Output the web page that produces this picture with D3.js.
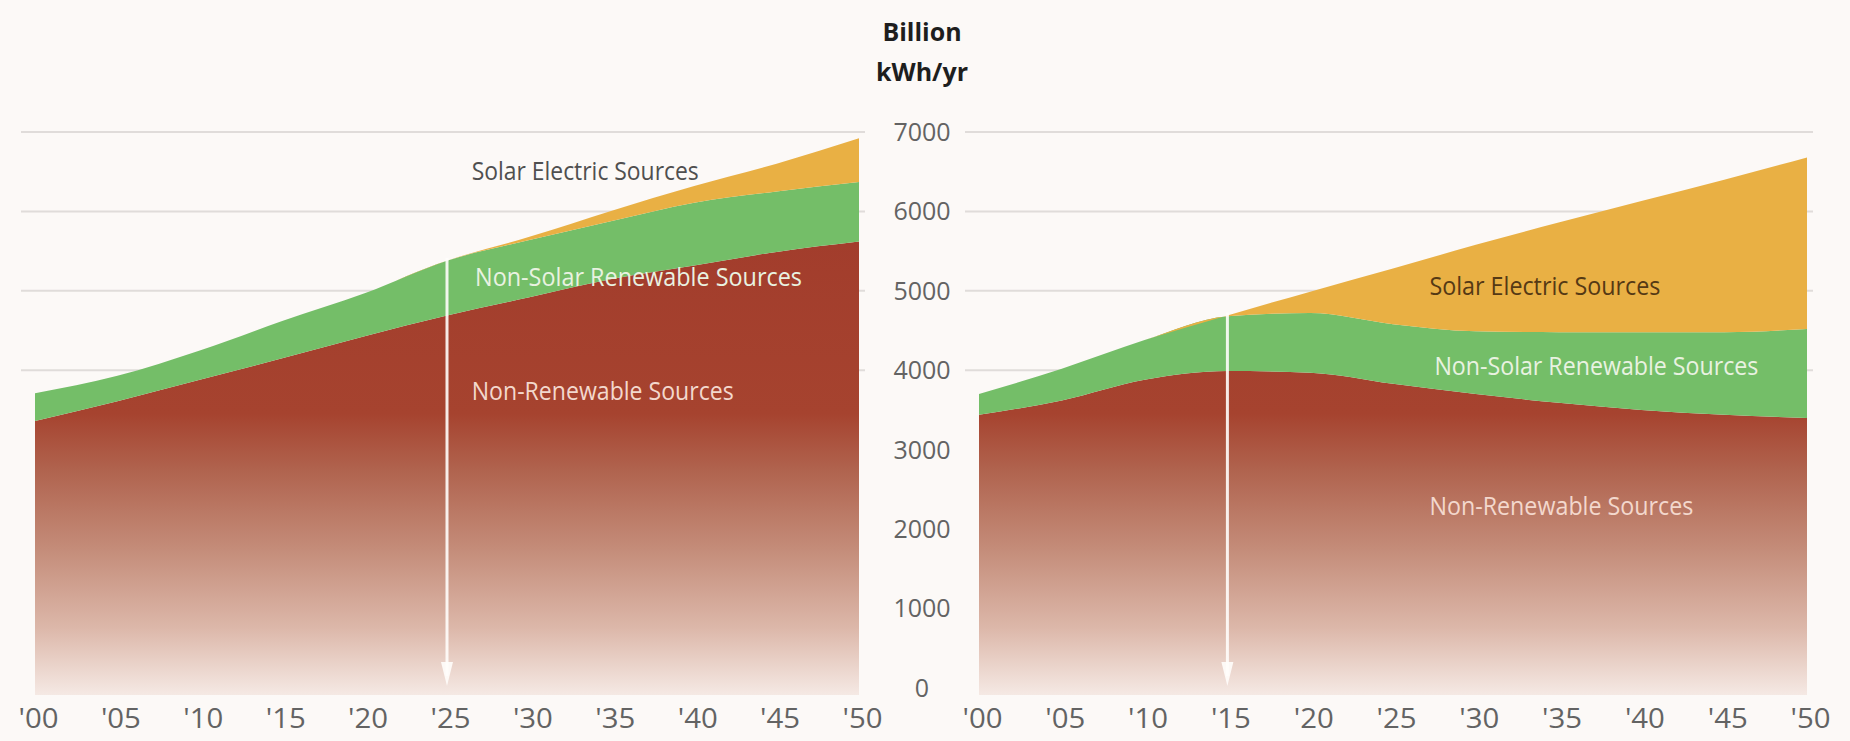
<!DOCTYPE html>
<html>
<head>
<meta charset="utf-8">
<style>
    body { margin: 0; background: #fcf9f7; }
    svg { display: block; }
</style>
</head>
<body>
<svg width="1850" height="741"></svg>
<script src="https://d3js.org/d3.v7.min.js"></script>
<script>
    // values in billion kWh/yr
    const years = [2000, 2005, 2010, 2015, 2020, 2025, 2030, 2035, 2040, 2045, 2050];
    const yearLabels = ["'00", "'05", "'10", "'15", "'20", "'25", "'30", "'35", "'40", "'45", "'50"];
    const yTicks = [0, 1000, 2000, 3000, 4000, 5000, 6000, 7000];
    const gridTicks = [4000, 5000, 6000, 7000];
    const seriesNames = ["Non-Renewable Sources", "Non-Solar Renewable Sources", "Solar Electric Sources"];

    const leftNonRenewable = [3360, 3610, 3880, 4150, 4430, 4690, 4920, 5150, 5320, 5490, 5620];
    const leftNonSolar     = [350, 320, 370, 470, 540, 690, 720, 730, 790, 760, 750];
    const leftSolar        = [0, 0, 0, 0, 0, 0, 40, 130, 210, 350, 550];

    const rightNonRenewable = [3440, 3620, 3880, 3990, 3970, 3830, 3700, 3590, 3500, 3440, 3400];
    const rightNonSolar     = [260, 400, 500, 690, 750, 750, 790, 890, 980, 1040, 1120];
    const rightSolar        = [0, 0, 0, 10, 270, 700, 1090, 1380, 1650, 1920, 2160];

    const svg = d3.select("svg");
    const height = 741;

    const y = d3.scaleLinear().domain([0, 7000]).range([688, 132]);

    // brown fades out toward the bottom
    const defs = svg.append("defs");
    const grad = defs.append("linearGradient")
        .attr("id", "brownFade")
        .attr("gradientUnits", "userSpaceOnUse")
        .attr("x1", 0).attr("x2", 0)
        .attr("y1", 132).attr("y2", 695);
    [[0, "#a0392a"], [0.5, "#a6432f"], [0.6, "#b0634e"], [0.74, "#c48c79"],
     [0.88, "#dcb7a9"], [1, "#f5e9e4"]].forEach(s =>
        grad.append("stop").attr("offset", s[0]).attr("stop-color", s[1]));

    const colors = ["url(#brownFade)", "#74be68", "#e9b044"];

    function drawPanel(x0, x1, nonRen, nonSolar, solar, arrowYear, labelPos) {
        const x = d3.scaleLinear().domain([2000, 2050]).range([x0, x1]);
        const rows = years.map((yr, i) => ({
            year: yr,
            [seriesNames[0]]: nonRen[i],
            [seriesNames[1]]: nonSolar[i],
            [seriesNames[2]]: solar[i]
        }));
        const stack = d3.stack().keys(seriesNames)(rows);

        const g = svg.append("g");

        g.append("g")
            .attr("stroke", "#e0dcda")
            .attr("stroke-width", 2)
            .selectAll("line")
            .data(gridTicks)
            .join("line")
            .attr("x1", x0 - 14)
            .attr("x2", x1 + 6)
            .attr("y1", d => y(d))
            .attr("y2", d => y(d));

        const area = d3.area()
            .curve(d3.curveMonotoneX)
            .x(d => x(d.data.year))
            .y0(d => d[0] === 0 ? 695 : y(d[0]))
            .y1(d => y(d[1]));

        g.append("g")
            .selectAll("path")
            .data(stack)
            .join("path")
            .attr("fill", (d, i) => colors[i])
            .attr("d", area);

        // white arrow
        const top = rows.find(r => r.year === arrowYear);
        const total = top[seriesNames[0]] + top[seriesNames[1]] + top[seriesNames[2]];
        const ax = x(arrowYear);
        g.append("line")
            .attr("x1", ax).attr("x2", ax)
            .attr("y1", y(total) - 3)
            .attr("y2", 676)
            .attr("stroke", "#fffdfb")
            .attr("stroke-opacity", 0.9)
            .attr("stroke-width", 3);
        g.append("path")
            .attr("fill", "#fffdfb")
            .attr("fill-opacity", 0.9)
            .attr("d", `M${ax - 6},662 L${ax + 6},662 L${ax},686 Z`);

        // x axis
        const xAxis = d3.axisBottom(x).tickValues(years).tickSize(0)
            .tickFormat((d, i) => yearLabels[i]);
        g.append("g")
            .attr("transform", `translate(3,${height - 40})`)
            .call(xAxis)
            .call(a => a.select(".domain").remove())
            .call(a => a.selectAll("text")
                .attr("dy", "0.71em")
                .attr("y", 8)
                .attr("fill", "#636363")
                .attr("font-family", "'Open Sans', sans-serif")
                .attr("font-size", 27)
                .attr("textLength", 40)
                .attr("lengthAdjust", "spacingAndGlyphs"));

        // series labels
        const lab = g.append("g")
            .attr("font-family", "'Open Sans', sans-serif")
            .attr("font-size", 25);
        labelPos.forEach(p => {
            lab.append("text")
                .attr("x", x(p.year))
                .attr("y", y(p.value))
                .attr("fill", p.color)
                .attr("textLength", p.width)
                .attr("lengthAdjust", "spacingAndGlyphs")
                .text(p.text);
        });
    }

    drawPanel(35, 859, leftNonRenewable, leftNonSolar, leftSolar, 2025, [
        {text: seriesNames[2], year: 2026.5, value: 6390, width: 227, color: "#4f4f4f"},
        {text: seriesNames[1], year: 2026.7, value: 5060, width: 327, color: "#e9f2e1"},
        {text: seriesNames[0], year: 2026.5, value: 3630, width: 262, color: "#f3d8cd"}
    ]);

    drawPanel(979, 1807, rightNonRenewable, rightNonSolar, rightSolar, 2015, [
        {text: seriesNames[2], year: 2027.2, value: 4950, width: 231, color: "#553914"},
        {text: seriesNames[1], year: 2027.5, value: 3940, width: 324, color: "#e9f2e1"},
        {text: seriesNames[0], year: 2027.2, value: 2180, width: 264, color: "#f3d8cd"}
    ]);

    // shared y axis in the middle
    const yAxis = d3.axisRight(y).tickValues(yTicks).tickSize(0).tickFormat(d3.format("d"));
    svg.append("g")
        .attr("transform", "translate(922,0)")
        .call(yAxis)
        .call(a => a.select(".domain").remove())
        .call(a => a.selectAll("text")
            .attr("x", 0)
            .attr("text-anchor", "middle")
            .attr("fill", "#636363")
            .attr("font-family", "'Open Sans', sans-serif")
            .attr("font-size", 26)
            .attr("textLength", d => String(d).length * 14.3)
            .attr("lengthAdjust", "spacingAndGlyphs"));

    svg.append("g")
        .attr("font-family", "'Open Sans', sans-serif")
        .attr("font-weight", "bold")
        .attr("font-size", 25)
        .attr("fill", "#1e1e1e")
        .attr("text-anchor", "middle")
        .selectAll("text")
        .data(["Billion", "kWh/yr"])
        .join("text")
        .attr("x", 922)
        .attr("y", (d, i) => 41 + i * 40)
        .text(d => d);
</script>
</body>
</html>
